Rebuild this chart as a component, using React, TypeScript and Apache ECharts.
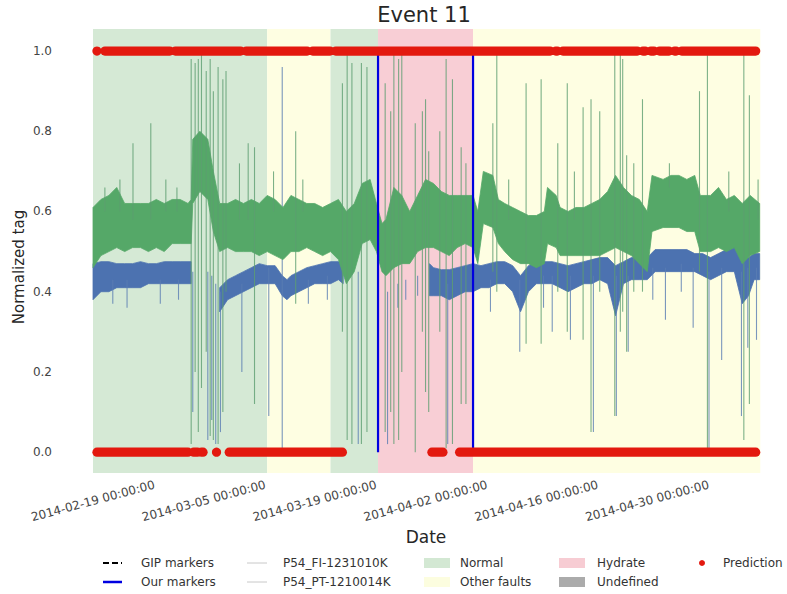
import React, { useEffect, useRef } from "react";
import * as echarts from "echarts";

// ---------- data (x values in days since 2014-02-19 00:00 UTC) ----------
const START_UTC = Date.UTC(2014, 1, 19);
const X_MIN = 0;
const X_MAX = 84.28;
const Y_MIN = -0.052;
const Y_MAX = 1.055;

const xTickDays = [0, 14, 28, 42, 56, 70];
const yTicks = [0, 0.2, 0.4, 0.6, 0.8, 1.0];

// background regions: start day, end day, kind (0 normal, 1 other faults, 2 hydrate)
const regionStart = [0, 22, 30, 36, 48];
const regionEnd = [22, 30, 36, 48, 84.28];
const regionKind = [0, 1, 0, 2, 1];

// "Our markers"
const ourMarkers = [36.0, 48.0];

// P54_PT-1210014K (green) noise envelope
const ptDays = [0, 1, 2, 3, 4, 5, 6, 7, 8, 9, 10, 11, 12, 12.4, 12.6, 13.5, 14.5, 15.2, 16, 17, 18, 19, 20, 21, 22, 23, 24, 25, 26, 27, 28, 29, 30, 31, 32, 33, 34, 35, 35.8, 36.5, 37, 38, 39, 40, 41, 42, 43, 44, 45, 46, 47, 48, 48.6, 49.3, 50.5, 51.2, 52, 53, 54, 55, 56, 57, 57.4, 58.5, 59, 60, 61, 62, 63, 64, 65, 66, 67, 68, 69, 70, 70.6, 72, 73, 74, 75, 76, 76.7, 78, 79, 80, 81, 82, 83, 84.2];
const ptLow = [0.46, 0.49, 0.50, 0.51, 0.50, 0.51, 0.51, 0.50, 0.51, 0.50, 0.52, 0.52, 0.52, 0.52, 0.62, 0.65, 0.63, 0.55, 0.50, 0.51, 0.50, 0.50, 0.50, 0.49, 0.50, 0.49, 0.48, 0.50, 0.50, 0.51, 0.50, 0.49, 0.50, 0.48, 0.42, 0.45, 0.52, 0.53, 0.50, 0.45, 0.44, 0.46, 0.47, 0.47, 0.50, 0.51, 0.51, 0.50, 0.49, 0.51, 0.52, 0.51, 0.47, 0.57, 0.56, 0.52, 0.50, 0.48, 0.47, 0.47, 0.46, 0.47, 0.52, 0.51, 0.49, 0.49, 0.49, 0.49, 0.49, 0.49, 0.50, 0.51, 0.50, 0.49, 0.47, 0.45, 0.55, 0.56, 0.56, 0.56, 0.55, 0.55, 0.50, 0.50, 0.51, 0.50, 0.51, 0.47, 0.49, 0.50];
const ptHigh = [0.61, 0.63, 0.64, 0.66, 0.62, 0.62, 0.62, 0.62, 0.63, 0.62, 0.63, 0.63, 0.62, 0.63, 0.78, 0.80, 0.78, 0.70, 0.62, 0.62, 0.63, 0.62, 0.63, 0.62, 0.64, 0.63, 0.61, 0.64, 0.63, 0.62, 0.62, 0.61, 0.62, 0.63, 0.60, 0.62, 0.67, 0.68, 0.62, 0.57, 0.58, 0.66, 0.64, 0.60, 0.64, 0.68, 0.67, 0.65, 0.64, 0.64, 0.64, 0.64, 0.60, 0.70, 0.69, 0.63, 0.62, 0.61, 0.60, 0.59, 0.59, 0.60, 0.66, 0.64, 0.61, 0.60, 0.61, 0.61, 0.62, 0.63, 0.65, 0.69, 0.66, 0.64, 0.63, 0.60, 0.69, 0.68, 0.69, 0.69, 0.68, 0.69, 0.64, 0.64, 0.66, 0.63, 0.64, 0.62, 0.64, 0.62];

// P54_FI-1231010K (blue) noise envelope, null = no band
const fiDays = [0, 1, 2, 3, 4, 5, 6, 7, 8, 9, 10, 11, 12, 12.4, 12.5, 16, 17, 18, 19, 20, 21, 22, 23, 23.9, 24.5, 25, 26, 27, 28, 29, 30, 31, 31.6, 31.8, 42.5, 43, 44, 45, 46, 47, 48, 49, 50, 51, 52, 53, 54, 55, 56, 57, 58, 59, 60, 61, 62, 63, 64, 65, 66, 67, 68, 69, 70, 71, 72, 73, 74, 75, 76, 77, 78, 79, 80, 81, 82, 82.8, 83.5, 84.2];
const fiLow = [0.38, 0.40, 0.40, 0.41, 0.41, 0.41, 0.41, 0.42, 0.42, 0.42, 0.42, 0.42, 0.42, 0.42, null, 0.35, 0.38, 0.39, 0.40, 0.41, 0.42, 0.42, 0.42, 0.39, 0.38, 0.39, 0.40, 0.41, 0.42, 0.42, 0.42, 0.43, 0.42, null, 0.39, 0.39, 0.39, 0.38, 0.39, 0.40, 0.40, 0.41, 0.41, 0.42, 0.42, 0.40, 0.35, 0.40, 0.42, 0.42, 0.42, 0.41, 0.40, 0.41, 0.42, 0.42, 0.43, 0.42, 0.34, 0.42, 0.43, 0.43, 0.43, 0.45, 0.45, 0.45, 0.45, 0.45, 0.45, 0.44, 0.43, 0.44, 0.45, 0.45, 0.37, 0.39, 0.43, 0.43];
const fiHigh = [0.47, 0.475, 0.475, 0.47, 0.47, 0.47, 0.475, 0.47, 0.47, 0.475, 0.475, 0.475, 0.475, 0.475, null, 0.41, 0.43, 0.44, 0.45, 0.46, 0.47, 0.465, 0.465, 0.44, 0.43, 0.44, 0.45, 0.46, 0.465, 0.47, 0.475, 0.475, 0.475, null, 0.47, 0.46, 0.455, 0.455, 0.46, 0.465, 0.47, 0.465, 0.47, 0.475, 0.475, 0.465, 0.44, 0.465, 0.475, 0.475, 0.475, 0.47, 0.465, 0.47, 0.475, 0.48, 0.485, 0.485, 0.465, 0.475, 0.485, 0.485, 0.485, 0.505, 0.505, 0.505, 0.505, 0.505, 0.495, 0.495, 0.485, 0.495, 0.505, 0.515, 0.495, 0.485, 0.495, 0.495];

// isolated spikes: [day, low, high]
const ptSpikes = [
  [1.5, 0.6, 0.66], [3.4, 0.6, 0.68], [5.05, 0.58, 0.77], [7.3, 0.58, 0.82], [9.2, 0.6, 0.68],
  [10.6, 0.6, 0.66], [12.4, 0.02, 0.98], [12.9, 0.2, 0.97], [13.3, 0.05, 0.98], [13.7, 0.16, 0.99],
  [14.3, 0.25, 0.95], [14.8, 0.04, 0.98], [15.2, 0.03, 0.9], [15.8, 0.02, 0.96], [16.4, 0.1, 0.93],
  [16.8, 0.4, 0.95], [18.5, 0.58, 0.72], [19.6, 0.58, 0.77], [20.4, 0.12, 0.76], [22.8, 0.6, 0.7],
  [25.6, 0.37, 0.8], [26.5, 0.6, 0.68], [31.5, 0.3, 0.92], [32.1, 0.03, 0.99], [32.7, 0.02, 0.97],
  [33.9, 0.02, 0.97], [34.6, 0.05, 0.96], [36.9, 0.05, 0.92], [37.6, 0.1, 0.85], [38.0, 0.02, 0.99],
  [38.6, 0.03, 0.98], [39.0, 0.2, 0.99], [40.7, 0.0, 0.82], [41.6, 0.3, 0.85], [42.0, 0.15, 0.88],
  [42.4, 0.1, 0.75], [43.8, 0.3, 0.8], [44.6, 0.01, 0.98], [45.4, 0.02, 0.93], [46.5, 0.12, 0.76],
  [47.1, 0.12, 0.72], [50.5, 0.45, 0.82], [51.0, 0.4, 0.99], [52.5, 0.58, 0.68], [54.7, 0.27, 0.92],
  [56.6, 0.27, 0.93], [58.7, 0.4, 0.77], [59.9, 0.3, 0.92], [60.8, 0.58, 0.7], [61.9, 0.28, 0.86],
  [62.9, 0.05, 0.88], [64.0, 0.4, 0.85], [65.9, 0.09, 0.99], [66.6, 0.3, 0.99], [66.9, 0.35, 0.98],
  [67.4, 0.25, 0.74], [68.3, 0.4, 0.72], [69.4, 0.4, 0.88], [72.8, 0.66, 0.72], [76.6, 0.45, 0.9],
  [77.6, 0.0, 0.99], [80.3, 0.6, 0.7], [82.2, 0.03, 0.99], [82.9, 0.12, 0.89], [84.0, 0.58, 0.68],
];
const fiSpikes = [
  [2.5, 0.37, 0.43], [4.3, 0.36, 0.43], [8.5, 0.37, 0.43], [10.8, 0.38, 0.43], [12.6, 0.1, 0.45],
  [14.5, 0.03, 0.45], [15.0, 0.08, 0.44], [15.5, 0.02, 0.42], [16.1, 0.05, 0.4], [18.8, 0.2, 0.42],
  [22.2, 0.09, 0.46], [23.9, 0.01, 0.96], [27.2, 0.37, 0.43], [29.6, 0.38, 0.44], [33.5, 0.02, 0.45],
  [37.2, 0.02, 0.4], [38.5, 0.36, 0.42], [39.5, 0.38, 0.43], [41.0, 0.39, 0.44], [44.8, 0.02, 0.42],
  [50.2, 0.35, 0.43], [53.9, 0.25, 0.43], [56.9, 0.36, 0.44], [58.0, 0.3, 0.44], [60.3, 0.28, 0.44],
  [63.2, 0.05, 0.44], [66.1, 0.09, 0.44], [67.6, 0.25, 0.44], [70.7, 0.38, 0.46], [72.3, 0.33, 0.46],
  [74.3, 0.4, 0.47], [75.8, 0.31, 0.46], [77.8, 0.0, 0.45], [79.4, 0.23, 0.46], [81.9, 0.09, 0.45],
  [82.7, 0.26, 0.46], [83.8, 0.28, 0.46],
];

// prediction runs: [start day, end day] at value 1 and at value 0
const predOne = [[0.5, 0.5], [1.5, 9.7], [10.4, 18.65], [19.35, 27.05], [27.75, 29.95], [30.65, 57.75], [58.45, 58.65], [59.35, 68.75], [69.45, 69.75], [70.45, 70.85], [71.55, 72.75], [73.45, 73.65], [74.35, 83.7]];
const predZero = [[0.5, 12.0], [12.7, 13.2], [13.7, 13.9], [15.6, 15.6], [17.2, 31.5], [42.8, 44.2], [46.3, 83.7]];

// ---------- helpers ----------
const FONT = "DejaVu Sans";
const regionColors = ["#d5e9d5", "#fefee2", "#f8ced5"];
const GREEN = "#55a868";
const BLUE = "#4c72b0";
const RED = "#e3190f";

function fmtDay(d: number) {
  const t = new Date(START_UTC + d * 86400000);
  const p = (n: number) => String(n).padStart(2, "0");
  return `${t.getUTCFullYear()}-${p(t.getUTCMonth() + 1)}-${p(t.getUTCDate())} 00:00:00`;
}

function runsOf(low: (number | null)[]) {
  const runs: number[][] = [];
  let s = -1;
  for (let i = 0; i <= low.length; i++) {
    const ok = i < low.length && low[i] != null;
    if (ok && s < 0) s = i;
    if (!ok && s >= 0) {
      runs.push([s, i - 1]);
      s = -1;
    }
  }
  return runs;
}

function bandSeries(name: string, days: number[], low: (number | null)[], high: (number | null)[], color: string, z: number) {
  const runs = runsOf(low);
  return {
    type: "custom",
    name,
    z,
    silent: true,
    data: runs,
    renderItem: (params: any, api: any) => {
      const [s, e] = runs[params.dataIndex];
      const pts: number[][] = [];
      for (let i = s; i <= e; i++) pts.push(api.coord([days[i], high[i]]));
      for (let i = e; i >= s; i--) pts.push(api.coord([days[i], low[i]]));
      return {
        type: "polygon",
        shape: { points: pts },
        style: { fill: color, stroke: color, lineWidth: 0.8 },
      };
    },
  };
}

function spikeSeries(spikes: number[][], color: string, z: number) {
  return {
    type: "custom",
    z,
    silent: true,
    data: spikes,
    renderItem: (_p: any, api: any) => {
      const a = api.coord([api.value(0), api.value(1)]);
      const b = api.coord([api.value(0), api.value(2)]);
      return {
        type: "line",
        shape: { x1: a[0], y1: a[1], x2: b[0], y2: b[1] },
        style: { stroke: color, lineWidth: 1.1, opacity: 0.8 },
      };
    },
  };
}

function predSeries(runs: number[][], value: number) {
  return {
    type: "custom",
    z: 10,
    silent: true,
    data: runs,
    renderItem: (_p: any, api: any) => {
      const a = api.coord([api.value(0), value]);
      const b = api.coord([api.value(1), value]);
      if (Math.abs(b[0] - a[0]) < 0.5) {
        return { type: "circle", shape: { cx: a[0], cy: a[1], r: 4.6 }, style: { fill: RED } };
      }
      return {
        type: "line",
        shape: { x1: a[0], y1: a[1], x2: b[0], y2: b[1] },
        style: { stroke: RED, lineWidth: 9.2, lineCap: "round" },
      };
    },
  };
}

export default function App() {
  const ref = useRef<HTMLDivElement>(null);
  useEffect(() => {
    const chart = echarts.init(ref.current!, null, { renderer: "svg" });
    const legendText = (x: number, y: number, text: string) => ({
      type: "text",
      x,
      y,
      style: { text, fill: "#333", font: `12px ${FONT}`, textAlign: "left", textVerticalAlign: "middle" },
    });
    const option: any = {
      animation: false,
      backgroundColor: "#ffffff",
      grid: { left: 93, right: 26.7, top: 29, bottom: 121, containLabel: false, outerBoundsMode: "none" },
      xAxis: {
        type: "value",
        min: X_MIN,
        max: X_MAX,
        axisLine: { show: false },
        axisTick: { show: false },
        splitLine: { show: false },
        axisLabel: {
          customValues: xTickDays,
          formatter: (v: number) => fmtDay(v),
          rotate: 15,
          align: "center",
          verticalAlign: "middle",
          margin: 28,
          fontSize: 12,
          fontFamily: FONT,
          color: "#444",
        },
      },
      yAxis: {
        type: "value",
        min: Y_MIN,
        max: Y_MAX,
        axisLine: { show: false },
        axisTick: { show: false },
        splitLine: { show: false },
        axisLabel: {
          customValues: yTicks,
          formatter: (v: number) => v.toFixed(1),
          margin: 41,
          fontSize: 12,
          fontFamily: FONT,
          color: "#444",
        },
      },
      series: [
        {
          type: "custom",
          z: 1,
          silent: true,
          data: regionStart.map((s, i) => [s, regionEnd[i], regionKind[i]]),
          renderItem: (_p: any, api: any) => {
            const a = api.coord([api.value(0), Y_MAX]);
            const b = api.coord([api.value(1), Y_MIN]);
            return {
              type: "rect",
              shape: { x: a[0], y: a[1], width: b[0] - a[0], height: b[1] - a[1] },
              style: { fill: regionColors[api.value(2)] },
            };
          },
        },
        bandSeries("P54_FI-1231010K", fiDays, fiLow, fiHigh, BLUE, 3),
        spikeSeries(fiSpikes, "#5a7db3", 3),
        bandSeries("P54_PT-1210014K", ptDays, ptLow, ptHigh, GREEN, 4),
        spikeSeries(ptSpikes, "#5c9e70", 4),
        {
          type: "custom",
          z: 8,
          silent: true,
          data: ourMarkers.map((d) => [d]),
          renderItem: (_p: any, api: any) => {
            const a = api.coord([api.value(0), 0]);
            const b = api.coord([api.value(0), 1]);
            return {
              type: "line",
              shape: { x1: a[0], y1: a[1], x2: b[0], y2: b[1] },
              style: { stroke: "#0000e0", lineWidth: 2.2 },
            };
          },
        },
        predSeries(predOne, 1),
        predSeries(predZero, 0),
      ],
      graphic: [
        {
          type: "text",
          x: 424,
          y: 15,
          style: { text: "Event 11", fill: "#262626", font: `21px ${FONT}`, textAlign: "center", textVerticalAlign: "middle" },
        },
        {
          type: "text",
          x: 426,
          y: 537,
          style: { text: "Date", fill: "#262626", font: `17px ${FONT}`, textAlign: "center", textVerticalAlign: "middle" },
        },
        {
          type: "text",
          x: 19,
          y: 267,
          rotation: Math.PI / 2,
          style: { text: "Normalized tag", fill: "#262626", font: `15px ${FONT}`, textAlign: "center", textVerticalAlign: "middle" },
        },
        // legend
        { type: "line", shape: { x1: 103, y1: 563, x2: 122, y2: 563 }, style: { stroke: "#000", lineWidth: 2, lineDash: [6, 3] } },
        { type: "line", shape: { x1: 103, y1: 582, x2: 122, y2: 582 }, style: { stroke: "#0000e0", lineWidth: 2.5 } },
        legendText(141, 563, "GIP markers"),
        legendText(141, 582, "Our markers"),
        { type: "line", shape: { x1: 247, y1: 563, x2: 267, y2: 563 }, style: { stroke: "#c8c8c8", lineWidth: 1 } },
        { type: "line", shape: { x1: 247, y1: 582, x2: 267, y2: 582 }, style: { stroke: "#c8c8c8", lineWidth: 1 } },
        legendText(283, 563, "P54_FI-1231010K"),
        legendText(283, 582, "P54_PT-1210014K"),
        { type: "rect", shape: { x: 424, y: 558, width: 26, height: 10 }, style: { fill: "#d3e8d3" } },
        { type: "rect", shape: { x: 424, y: 577, width: 26, height: 10 }, style: { fill: "#fcfddf" } },
        legendText(460, 563, "Normal"),
        legendText(460, 582, "Other faults"),
        { type: "rect", shape: { x: 559, y: 558, width: 26, height: 10 }, style: { fill: "#f7ccd3" } },
        { type: "rect", shape: { x: 559, y: 577, width: 26, height: 10 }, style: { fill: "#ababab" } },
        legendText(597, 563, "Hydrate"),
        legendText(597, 582, "Undefined"),
        { type: "circle", shape: { cx: 702, cy: 563, r: 3 }, style: { fill: RED } },
        legendText(723, 563, "Prediction"),
      ],
    };
    chart.setOption(option);
    return () => chart.dispose();
  }, []);
  return <div ref={ref} style={{ position: "fixed", left: 0, top: 0, width: 787, height: 594 }} />;
}
